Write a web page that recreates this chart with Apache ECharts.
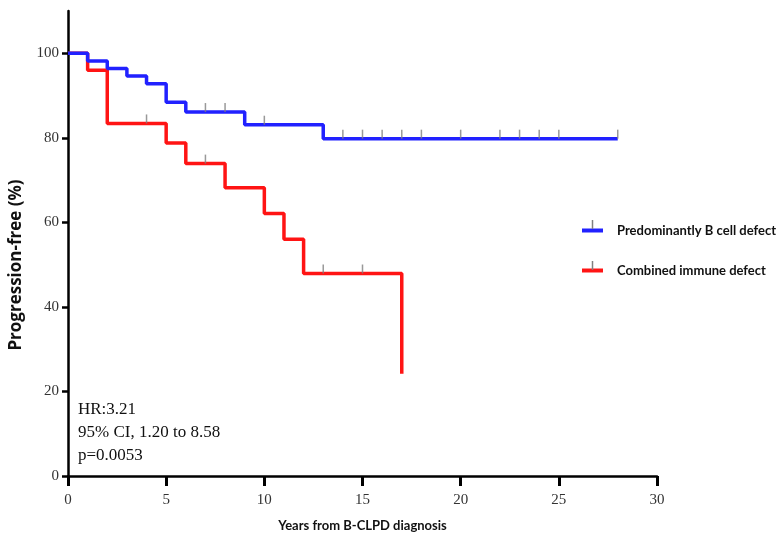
<!DOCTYPE html>
<html>
<head>
<meta charset="utf-8">
<script src="https://cdn.jsdelivr.net/npm/echarts@6/dist/echarts.min.js"></script>
<style>
  html, body { margin: 0; padding: 0; background: #fff; }
  #chart { width: 779px; height: 540px; }
</style>
</head>
<body>
<div id="chart"></div>
<script>
// step points (year, % progression-free)
const blueYears = [0, 1, 2, 3, 4, 5, 6, 9, 13, 28];
const blueValues = [100, 98.2, 96.4, 94.6, 92.8, 88.4, 86.1, 83.1, 79.8, 79.8];
const redYears = [0, 1, 2, 5, 6, 8, 10, 11, 12, 17];
const redValues = [100, 96.0, 83.4, 78.8, 73.9, 68.2, 62.1, 56.0, 47.9, 24.2];

// censored observations (years)
const blueCensored = [7, 8, 10, 14, 15, 16, 17, 18, 20, 22, 23, 24, 25, 28];
const redCensored = [4, 7, 13, 15];

const xTicks = [0, 5, 10, 15, 20, 25, 30];
const yTicks = [0, 20, 40, 60, 80, 100];

const BLUE = '#2121ff';
const RED = '#ff1414';

// value of the step curve at year t
function levelAt(years, values, t) {
  let v = values[0];
  for (let i = 0; i < years.length; i++) {
    if (years[i] <= t) v = values[i];
  }
  return v;
}

const zip = (xs, ys) => xs.map((x, i) => [x, ys[i]]);
const censorPts = (cs, years, values) => cs.map(t => [t, levelAt(years, values, t)]);

const chart = echarts.init(document.getElementById('chart'));

const censorStyle = {
  type: 'scatter',
  symbol: 'rect',
  symbolSize: [1.5, 9],
  symbolOffset: [0, '-50%'],
  itemStyle: { color: '#808080' },
  silent: true,
  z: 5
};

// small grey tick over each legend icon
const legendTick = y => ({
  type: 'line',
  shape: { x1: 592.5, y1: y - 9, x2: 592.5, y2: y },
  style: { stroke: '#808080', lineWidth: 1.5 },
  z: 100
});

chart.setOption({
  animation: false,
  grid: { left: 68, right: 122, top: 11, bottom: 64 },
  xAxis: {
    type: 'value',
    min: 0, max: 30, interval: 5,
    name: 'Years from B-CLPD diagnosis',
    nameLocation: 'middle',
    nameGap: 43,
    nameTextStyle: { fontFamily: 'Lato', fontWeight: 'bold', fontSize: 13, color: '#111' },
    axisLine: { lineStyle: { color: '#000', width: 2.5 } },
    axisTick: { length: 10, lineStyle: { color: '#000', width: 3 }, customValues: xTicks },
    axisLabel: { fontFamily: 'Liberation Serif', fontSize: 15, color: '#333', margin: 17, customValues: xTicks },
    splitLine: { show: false }
  },
  yAxis: {
    type: 'value',
    min: 0, max: 110, interval: 20,
    axisLine: { show: true, lineStyle: { color: '#000', width: 2.5 } },
    axisTick: { show: true, length: 6, lineStyle: { color: '#000', width: 2.5 }, customValues: yTicks },
    axisLabel: { fontFamily: 'Liberation Serif', fontSize: 15, color: '#333', margin: 9, customValues: yTicks },
    splitLine: { show: false }
  },
  legend: {
    orient: 'vertical',
    left: 577,
    top: 219,
    itemGap: 27,
    itemWidth: 21,
    itemHeight: 4,
    icon: 'rect',
    data: ['Predominantly B cell defect', 'Combined immune defect'],
    textStyle: { fontFamily: 'Lato', fontWeight: 'bold', fontSize: 13, color: '#111', padding: [0, 0, 0, 9] }
  },
  graphic: [
    {
      type: 'text',
      x: 16,
      y: 265,
      rotation: Math.PI / 2,
      style: {
        text: 'Progression-free (%)',
        font: 'bold 17px "Open Sans"',
        fill: '#111',
        align: 'center',
        verticalAlign: 'middle'
      }
    },
    {
      type: 'text',
      left: 78,
      top: 398,
      style: {
        text: 'HR:3.21\n95% CI, 1.20 to 8.58\np=0.0053',
        font: '17px "Liberation Serif"',
        lineHeight: 23,
        fill: '#111'
      }
    },
    legendTick(229),
    legendTick(270)
  ],
  series: [
    {
      name: 'Combined immune defect',
      type: 'line',
      step: 'end',
      data: zip(redYears, redValues),
      showSymbol: false,
      lineStyle: { color: RED, width: 3.5 },
      itemStyle: { color: RED },
      z: 2
    },
    {
      name: 'Predominantly B cell defect',
      type: 'line',
      step: 'end',
      data: zip(blueYears, blueValues),
      showSymbol: false,
      lineStyle: { color: BLUE, width: 3.5 },
      itemStyle: { color: BLUE },
      z: 3
    },
    Object.assign({ name: 'redCensor', data: censorPts(redCensored, redYears, redValues) }, censorStyle),
    Object.assign({ name: 'blueCensor', data: censorPts(blueCensored, blueYears, blueValues) }, censorStyle)
  ]
});
</script>
</body>
</html>
